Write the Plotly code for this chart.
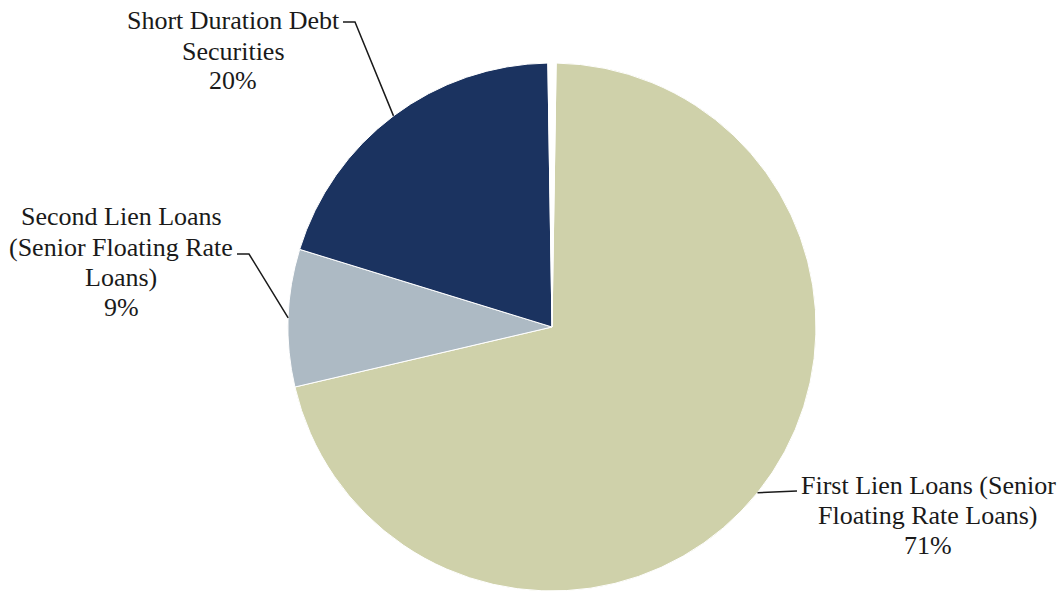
import math
import plotly.graph_objects as go

labels = ["First Lien Loans (Senior Floating Rate Loans)",
          "Second Lien Loans (Senior Floating Rate Loans)",
          "Short Duration Debt Securities",
          "Other"]
values = [71.1, 8.4, 20.0, 0.5]
colors = ["#CFD1AA", "#ADBAC4", "#1B3360", "#FFFFFF"]
label_lines = [
    ["First Lien Loans (Senior", "Floating Rate Loans)", "71%"],
    ["Second Lien Loans", "(Senior Floating Rate", "Loans)", "9%"],
    ["Short Duration Debt", "Securities", "20%"],
    None,
]

W, H = 1063, 591
rotation = 0.9
dom_x = [288 / W, 816 / W]
dom_y = [0.0, 1 - 63 / H]
cx = (dom_x[0] + dom_x[1]) / 2 * W
cy = H - (dom_y[0] + dom_y[1]) / 2 * H
R = min((dom_x[1] - dom_x[0]) * W, (dom_y[1] - dom_y[0]) * H) / 2

fig = go.Figure(go.Pie(
    labels=labels, values=values, sort=False, direction="clockwise",
    rotation=rotation, marker=dict(colors=colors, line=dict(color="white", width=1)),
    textinfo="none", hoverinfo="label", showlegend=False,
    domain=dict(x=dom_x, y=dom_y),
))

# label block placement in pixels: center x, first-line y, stub end
label_pos = [
    dict(tx=928, ty=485, hx=797, hy=491),
    dict(tx=121, ty=217, hx=237, hy=254),
    dict(tx=233, ty=21, hx=343, hy=22),
]
line_gap = 30

total = sum(values)
start = rotation
shapes = []
annotations = []
for i, v in enumerate(values):
    sweep = v / total * 360
    mid = start + sweep / 2
    start += sweep
    if label_lines[i] is None:
        continue
    a = math.radians(mid)
    px = cx + R * math.sin(a)
    py = cy - R * math.cos(a)
    lp = label_pos[i]
    if i == 0:
        path_pts = [(px, py), (lp["hx"], lp["hy"])]
    else:
        path_pts = [(lp["hx"], lp["hy"]), (lp["hx"] + 12, lp["hy"]), (px, py)]
    d = "M " + " L ".join(f"{x / W},{1 - y / H}" for x, y in path_pts)
    shapes.append(dict(type="path", path=d, xref="paper", yref="paper",
                       line=dict(color="#1a1a1a", width=1.5)))
    for k, txt in enumerate(label_lines[i]):
        annotations.append(dict(x=lp["tx"] / W, y=1 - (lp["ty"] + k * line_gap) / H,
                                xref="paper", yref="paper",
                                text=txt, showarrow=False, align="center",
                                xanchor="center", yanchor="middle",
                                font=dict(family="Liberation Serif", size=26, color="#1a1a1a")))

fig.update_layout(width=W, height=H, margin=dict(l=0, r=0, t=0, b=0),
                  paper_bgcolor="white", plot_bgcolor="white",
                  shapes=shapes, annotations=annotations)
fig.write_html("out.html")
